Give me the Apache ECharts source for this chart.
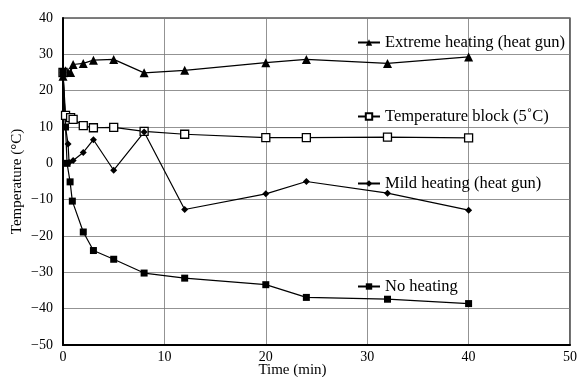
<!DOCTYPE html>
<html><head><meta charset="utf-8">
<script src="https://cdn.jsdelivr.net/npm/echarts@6/dist/echarts.min.js"></script>
<style>html,body{margin:0;padding:0;background:#fff}#c{width:577px;height:377px}</style>
</head><body><div id="c"></div>
<script>
const extremeHeating = [[0,24],[0.25,25.5],[0.5,25],[0.75,25],[1,27.2],[2,27.5],[3,28.4],[5,28.6],[8,24.9],[12,25.6],[20,27.7],[24,28.6],[32,27.5],[40,29.3]];
const temperatureBlock = [[0,25],[0.25,13.2],[0.75,12.6],[1,12.1],[2,10.4],[3,9.8],[5,9.9],[8,8.8],[12,8.0],[20,7.1],[24,7.1],[32,7.2],[40,7.0]];
const mildHeating = [[0,25],[0.25,10],[0.5,5.3],[0.6,0.2],[1,0.8],[2,3.0],[3,6.5],[5,-1.9],[8,8.6],[12,-12.7],[20,-8.4],[24,-5],[32,-8.2],[40,-12.9]];
const noHeating = [[0,25],[0.25,10],[0.4,0],[0.7,-5.1],[0.92,-10.4],[2,-18.9],[3,-24],[5,-26.4],[8,-30.2],[12,-31.6],[20,-33.4],[24,-36.9],[32,-37.4],[40,-38.6]];
const names = ['Extreme heating (heat gun)','Temperature block (5\u02daC)','Mild heating (heat gun)','No heating'];
const xTicks = [0,10,20,30,40,50];
const yTicks = [-50,-40,-30,-20,-10,0,10,20,30,40];

const font = 'Liberation Serif';
const chart = echarts.init(document.getElementById('c'), null, {renderer:'canvas'});
function ser(name, data, symbol, size, filled){
  return {name, type:'line', data, symbol, symbolSize:size, showSymbol:true,
    lineStyle:{color:'#000', width:1.2},
    itemStyle:{color: filled?'#000':'#fff', borderColor:'#000', borderWidth: filled?0:1.3},
    emphasis:{disabled:true}, animation:false};
}
function leg(name, top){
  return {data:[name], left:357, top:top, padding:0, itemWidth:22, itemHeight:8, itemGap:4,
    textStyle:{fontFamily:font, fontSize:16.5, color:'#000'}, selectedMode:false};
}
chart.setOption({
  backgroundColor:'#fff',
  animation:false,
  grid:{left:63, right:7, top:18, bottom:32, outerBoundsMode:'none', containLabel:false, show:true, borderColor:'#000', borderWidth:1.2},
  legend:[leg(names[0],34), leg(names[1],108), leg(names[2],175), leg(names[3],278)],
  xAxis:{type:'value', min:xTicks[0], max:xTicks[xTicks.length-1], interval:10,
    name:'Time (min)', nameLocation:'middle', nameGap:18, nameMoveOverlap:false,
    nameTextStyle:{fontFamily:font, fontSize:15, color:'#000', padding:[0,48,0,0]},
    axisLine:{onZero:false, lineStyle:{color:'#000', width:2}}, axisTick:{show:false},
    axisLabel:{fontFamily:font, fontSize:14, color:'#000', margin:5},
    splitLine:{lineStyle:{color:'#777', width:0.8}}},
  yAxis:{type:'value', min:yTicks[0], max:yTicks[yTicks.length-1], interval:10,
    name:'Temperature (\u00b0C)', nameLocation:'middle', nameGap:38, nameMoveOverlap:false,
    nameTextStyle:{fontFamily:font, fontSize:15, color:'#000'},
    axisLine:{show:true, onZero:false, lineStyle:{color:'#000', width:2}}, axisTick:{show:false},
    axisLabel:{fontFamily:font, fontSize:14, color:'#000', margin:10, formatter:v=>v<0?'\u2212'+(-v):''+v},
    splitLine:{lineStyle:{color:'#777', width:0.8}}},
  series:[
    ser(names[0], extremeHeating, 'triangle', 9, true),
    ser(names[1], temperatureBlock, 'rect', 8, false),
    ser(names[2], mildHeating, 'diamond', 7, true),
    ser(names[3], noHeating, 'rect', 7, true)
  ]
});
</script></body></html>
